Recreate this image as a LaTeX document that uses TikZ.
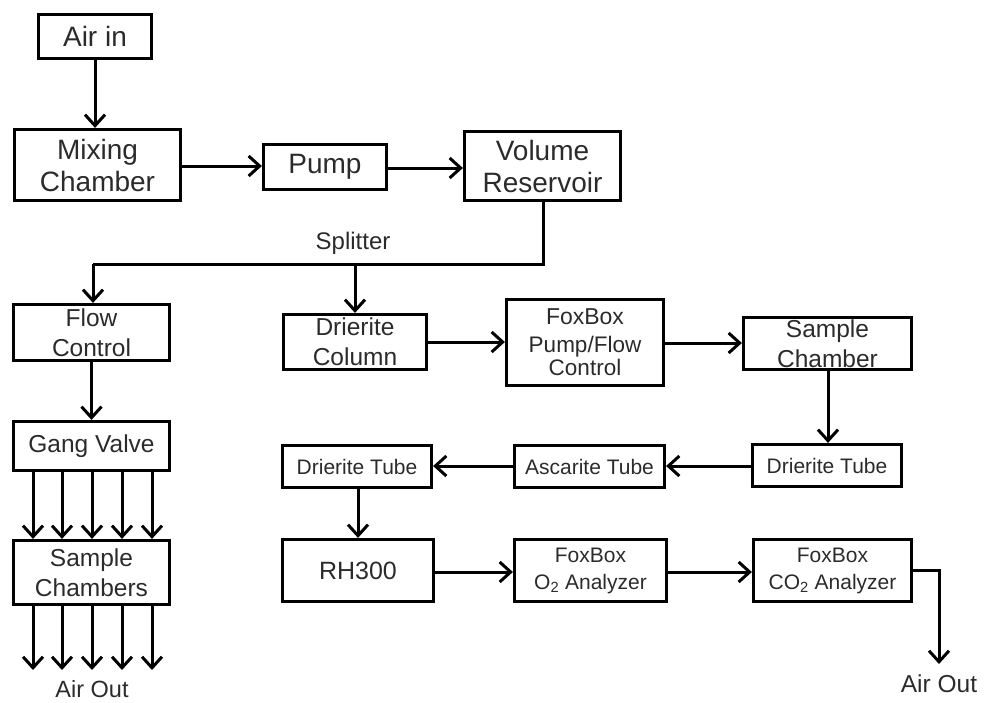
\documentclass[tikz,border=0pt]{standalone}
\usepackage{fontspec}
\setmainfont{Liberation Sans}
\usetikzlibrary{arrows.meta}
\definecolor{txt}{HTML}{2B2B2B}
\tikzset{
  box/.style={draw=black, line width=3.2pt, align=center, text=txt, inner sep=0pt},
  flowline/.style={line width=3pt, -{Straight Barb[length=11pt,width=20pt,line width=3pt]}},
  plainline/.style={line width=3pt},
  lbl/.style={text=txt, inner sep=0pt},
  fA/.style={font=\fontsize{28}{32}\selectfont},
  fB/.style={font=\fontsize{24.5}{30}\selectfont},
  fC/.style={font=\fontsize{24.5}{30}\selectfont},
  fD/.style={font=\fontsize{21}{27}\selectfont},
  fE/.style={font=\fontsize{22.5}{23}\selectfont}
}
\begin{document}
\begin{tikzpicture}[x=1pt,y=-1pt]
\useasboundingbox (0,0) rectangle (986,702);
% nodes
\node[box,fA,minimum width=113,minimum height=44] (airin) at (95,36.5) {Air in};
\node[box,fA,minimum width=166,minimum height=71] (mix) at (97.5,165) {Mixing\\Chamber};
\node[box,fA,minimum width=123,minimum height=45] (pump) at (325,167) {Pump};
\node[box,fA,minimum width=156,minimum height=69] (vol) at (542.5,166) {Volume\\Reservoir};
\node[box,fB,minimum width=156,minimum height=56] (flow) at (91.5,332.5) {Flow\\Control};
\node[box,fB,minimum width=156,minimum height=49] (gang) at (91.5,446) {Gang Valve};
\node[box,fB,minimum width=156,minimum height=64] (samps) at (91.5,572.5) {Sample\\Chambers};
\node[box,fC,minimum width=143,minimum height=55] (dcol) at (355,342) {Drierite\\Column};
\node[box,fE,minimum width=157,minimum height=86] (fbpf) at (585,342.5)
  {{\fontsize{23}{23}\selectfont FoxBox}\\[5pt]Pump/Flow\\Control};
\node[box,fC,minimum width=168,minimum height=52] (sch) at (827.5,343.5) {Sample\\Chamber};
\node[box,fD,minimum width=149,minimum height=42] (dtr) at (827,465.5) {Drierite Tube};
\node[box,fD,minimum width=150,minimum height=42] (asc) at (589.5,466.5) {Ascarite Tube};
\node[box,fD,minimum width=149,minimum height=42] (dtl) at (357,466.5) {Drierite Tube};
\node[box,font=\fontsize{25}{30}\selectfont,minimum width=151,minimum height=62] (rh) at (358,570.5) {RH300};
\node[box,fD,minimum width=152,minimum height=62] (otwo) at (590.5,570.5) {FoxBox\\O\textsubscript{2} Analyzer};
\node[box,fD,minimum width=158,minimum height=62] (cotwo) at (832.5,570.5) {FoxBox\\CO\textsubscript{2} Analyzer};
% labels
\node[lbl,font=\fontsize{24}{28}\selectfont] (split) at (353,243) {Splitter};
\node[lbl,font=\fontsize{23.5}{28}\selectfont] (outl) at (92,689) {Air Out};
\node[lbl,font=\fontsize{24.5}{28}\selectfont] (outr) at (939,684) {Air Out};
% coordinates
\coordinate (sr) at (543,264);
\coordinate (sl) at (93,264);
\coordinate (sm) at (355,264);
\coordinate (cr) at (939,570);
\coordinate (ce) at (939,664);
% connectors
\draw[flowline] (airin.south) -- (airin.south |- mix.north);
\draw[flowline] (mix.east |- 0,166) -- (pump.west |- 0,166);
\draw[flowline] (pump.east |- 0,168) -- (vol.west |- 0,168);
\draw[plainline] (vol.south -| sr) -- (sr) -- (sl);
\draw[flowline] (sl) -- (sl |- flow.north);
\draw[flowline] (sm) -- (sm |- dcol.north);
\draw[flowline] (flow.south) -- (gang.north);
\foreach \xx/\nn in {33/a,62/b,92/c,122/d,152/e}{
  \coordinate (gt\nn) at (\xx,0);
  \draw[flowline] (gang.south -| gt\nn) -- (samps.north -| gt\nn);
  \draw[flowline] (samps.south -| gt\nn) -- (gt\nn |- 0,670);
}
\draw[flowline] (dcol.east |- 0,342) -- (fbpf.west |- 0,342);
\draw[flowline] (fbpf.east |- 0,343) -- (sch.west |- 0,343);
\draw[flowline] (sch.south -| 828,0) -- (dtr.north -| 828,0);
\draw[flowline] (dtr.west |- 0,466) -- (asc.east |- 0,466);
\draw[flowline] (asc.west |- 0,466) -- (dtl.east |- 0,466);
\draw[flowline] (dtl.south -| 358,0) -- (rh.north -| 358,0);
\draw[flowline] (rh.east |- 0,572) -- (otwo.west |- 0,572);
\draw[flowline] (otwo.east |- 0,572) -- (cotwo.west |- 0,572);
\draw[flowline] (cotwo.east |- cr) -- (cr) -- (ce);
\end{tikzpicture}
\end{document}
